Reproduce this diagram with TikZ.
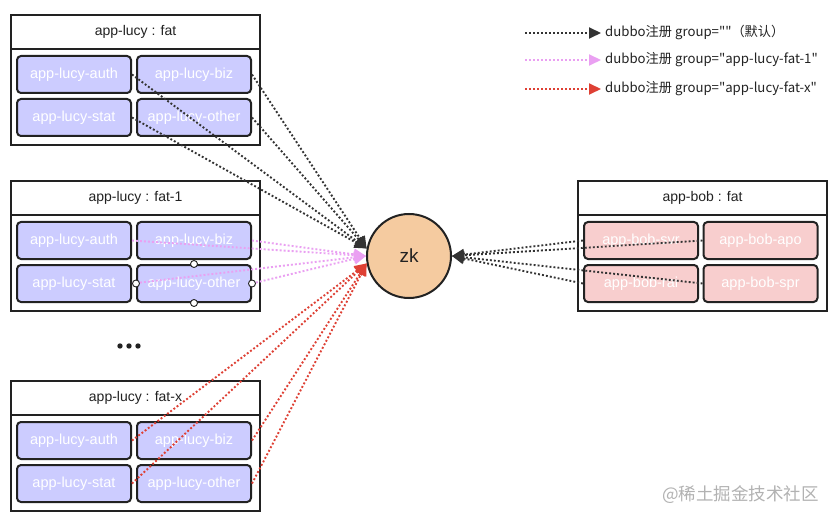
\documentclass[tikz,border=0pt]{standalone}
\usepackage{fontspec}
\setmainfont{Liberation Sans}
\newfontfamily\cjk{Noto Sans CJK SC}
\usetikzlibrary{arrows.meta}
\definecolor{lucyfill}{RGB}{204,204,255}
\definecolor{bobfill}{RGB}{248,206,206}
\definecolor{zkfill}{RGB}{245,203,160}
\definecolor{edge}{RGB}{34,34,34}
\definecolor{dotk}{RGB}{51,51,51}
\definecolor{dotp}{RGB}{234,160,242}
\definecolor{dotr}{RGB}{222,64,52}
\begin{document}
\begin{tikzpicture}[x=1pt,y=-1pt,
  grouptitle/.style={draw=edge, line width=2pt, minimum width=249pt, minimum height=34pt, anchor=north west, inner sep=0pt, font=\fontsize{14}{16}\selectfont, text=edge},
  groupbody/.style={draw=edge, line width=2pt, minimum width=249pt, minimum height=96pt, anchor=north west, inner sep=0pt},
  svc/.style={draw=edge, line width=2pt, rounded corners=4pt, minimum width=114pt, minimum height=37pt, inner sep=0pt, text=white, font=\fontsize{14.5}{16}\selectfont},
  lucy/.style={svc, fill=lucyfill},
  bob/.style={svc, fill=bobfill},
  dotline/.style={line width=1.9pt, dash pattern=on 1.9pt off 2.1pt},
  tipk/.style={dotline, draw=dotk, -{Triangle[length=12pt,width=11pt]}},
  tipp/.style={dotline, draw=dotp, -{Triangle[length=12pt,width=11pt]}},
  tipr/.style={dotline, draw=dotr, -{Triangle[length=12pt,width=11pt]}},
  legtext/.style={anchor=west, inner sep=4pt, font=\cjk\fontsize{13.2}{15}\selectfont, text=edge},
  handle/.style={circle, draw=edge, fill=white, line width=0.9pt, minimum size=7pt, inner sep=0pt},
]
\useasboundingbox (0,0) rectangle (837,521);
\fill[white] (0,0) rectangle (837,521);

% group 1: app-lucy : fat
\node[grouptitle] (g1t) at (10,14) {app-lucy : fat};
\node[groupbody] (g1b) at (10,48) {};
\node[lucy] (a1) at (74,74.5) {app-lucy-auth};
\node[lucy] (b1) at (194,74.5) {app-lucy-biz};
\node[lucy] (s1) at (74,117.5) {app-lucy-stat};
\node[lucy] (o1) at (194,117.5) {app-lucy-other};

% group 2: app-lucy : fat-1
\node[grouptitle] (g2t) at (10,180) {app-lucy : fat-1};
\node[groupbody] (g2b) at (10,214) {};
\node[lucy] (a2) at (74,240.5) {app-lucy-auth};
\node[lucy] (b2) at (194,240.5) {app-lucy-biz};
\node[lucy] (s2) at (74,283.5) {app-lucy-stat};
\node[lucy] (o2) at (194,283.5) {app-lucy-other};

% ellipsis
\fill[edge] (120,346) circle (2.7) (129,346) circle (2.7) (138,346) circle (2.7);

% group 3: app-lucy : fat-x
\node[grouptitle] (g3t) at (10,380) {app-lucy : fat-x};
\node[groupbody] (g3b) at (10,414) {};
\node[lucy] (a3) at (74,440.5) {app-lucy-auth};
\node[lucy] (b3) at (194,440.5) {app-lucy-biz};
\node[lucy] (s3) at (74,483.5) {app-lucy-stat};
\node[lucy] (o3) at (194,483.5) {app-lucy-other};

% bob group
\node[grouptitle] (gbt) at (577,180) {app-bob : fat};
\node[groupbody] (gbb) at (577,214) {};
\node[bob] (bsvr) at (641,240.5) {app-bob-svr};
\node[bob] (bapo) at (760.5,240.5) {app-bob-apo};
\node[bob] (brai) at (641,283.5) {app-bob-rai};
\node[bob] (bspr) at (760.5,283.5) {app-bob-spr};

% zk
\node[circle, draw=edge, line width=2pt, fill=zkfill, minimum size=84pt, inner sep=0pt, font=\fontsize{19}{22}\selectfont, text=edge] (zk) at (409,256) {zk};

% connectors
\draw[tipk] (a1.east) -- (zk.170);
\draw[tipk] (b1.east) -- (zk.170);
\draw[tipk] (s1.east) -- (zk.170);
\draw[tipk] (o1.east) -- (zk.170);

\draw[tipp] (a2.east) -- (zk.180);
\draw[tipp] (b2.east) -- (zk.180);
\draw[tipp] (s2.east) -- (zk.180);
\draw[tipp] (o2.east) -- (zk.180);

\draw[tipr] (a3.east) -- (zk.190);
\draw[tipr] (b3.east) -- (zk.190);
\draw[tipr] (s3.east) -- (zk.190);
\draw[tipr] (o3.east) -- (zk.190);

\draw[tipk] (bsvr.west) -- (zk.0);
\draw[tipk] (bapo.west) -- (zk.0);
\draw[tipk] (brai.west) -- (zk.0);
\draw[tipk] (bspr.west) -- (zk.0);

% selection handles
\node[handle] (h1) at (o2.north) {};
\node[handle] (h2) at (o2.south) {};
\node[handle] (h3) at (o2.west) {};
\node[handle] (h4) at (o2.east) {};

% legend
\coordinate (l1) at (525,33);
\coordinate (l2) at (525,60);
\coordinate (l3) at (525,89);
\node[legtext] (lt1) at (601,33) {dubbo注册 group=""（默认）};
\node[legtext] (lt2) at (601,60) {dubbo注册 group="app-lucy-fat-1"};
\node[legtext] (lt3) at (601,89) {dubbo注册 group="app-lucy-fat-x"};
\draw[tipk] (l1) -- (lt1.west);
\draw[tipp] (l2) -- (lt2.west);
\draw[tipr] (l3) -- (lt3.west);

% watermark
\node[anchor=west, inner sep=0pt, font=\cjk\fontsize{17.5}{20}\selectfont, text=black!30] (wm) at (662,495) {@稀土掘金技术社区};
\end{tikzpicture}
\end{document}
